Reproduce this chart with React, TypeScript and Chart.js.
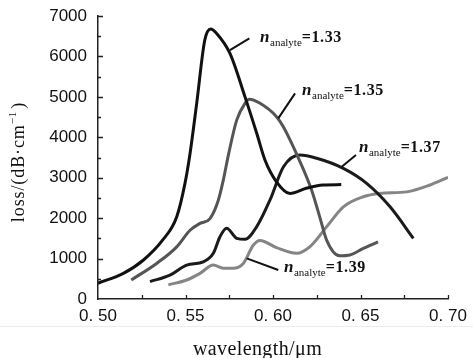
import React, { useEffect, useRef } from 'react';
import { Chart, registerables } from 'chart.js';

Chart.register(...registerables);

// wavelength (µm) and loss (dB/cm) for each analyte index
const wl133 = [0.5, 0.5145, 0.526, 0.537, 0.545, 0.5497, 0.5526, 0.5564, 0.561, 0.5644, 0.5678, 0.5754, 0.584, 0.5907, 0.5954, 0.602, 0.6097, 0.619, 0.6287, 0.639];
const loss133 = [390, 635, 965, 1460, 2035, 2860, 3600, 4840, 6400, 6680, 6570, 6075, 5000, 4100, 3440, 2900, 2610, 2740, 2820, 2830];

const wl135 = [0.519, 0.5335, 0.545, 0.5526, 0.5583, 0.564, 0.5688, 0.5716, 0.5745, 0.5793, 0.584, 0.5865, 0.5926, 0.602, 0.6059, 0.6154, 0.622, 0.6269, 0.6307, 0.638, 0.644, 0.6516, 0.66];
const loss135 = [470, 880, 1290, 1700, 1870, 1990, 2450, 2940, 3560, 4430, 4840, 4940, 4840, 4510, 4260, 3400, 2700, 2000, 1450, 1070, 1090, 1250, 1410];

const wl137 = [0.5297, 0.5411, 0.5507, 0.5602, 0.5659, 0.5697, 0.5735, 0.5793, 0.584, 0.5907, 0.5983, 0.606, 0.6154, 0.625, 0.6402, 0.6535, 0.6669, 0.6802];
const loss137 = [430, 590, 840, 920, 1130, 1540, 1750, 1500, 1475, 1790, 2450, 3270, 3560, 3480, 3230, 2860, 2280, 1500];

const wl139 = [0.5402, 0.5507, 0.5583, 0.5659, 0.5716, 0.5773, 0.583, 0.5888, 0.5926, 0.602, 0.6135, 0.621, 0.6307, 0.6402, 0.6516, 0.661, 0.6764, 0.6897, 0.7];
const loss139 = [350, 470, 635, 840, 760, 760, 880, 1335, 1450, 1270, 1130, 1290, 1790, 2280, 2530, 2610, 2650, 2820, 3010];

const seriesLabels = ['1.33', '1.35', '1.37', '1.39'];
const seriesColors = ['#111111', '#555555', '#1a1a1a', '#858585'];

// annotation leader lines and text anchors, in data coordinates
const leaderFromX = [0.5754, 0.603, 0.6393, 0.585];
const leaderFromY = [6158, 4469, 3272, 1006];
const leaderToX = [0.5865, 0.6126, 0.6474, 0.603];
const leaderToY = [6447, 5087, 3561, 717];
const textX = [0.5926, 0.6166, 0.6491, 0.6063];
const textY = [6480, 5170, 3767, 790];

const xTitle = 'wavelength/\u03bcm';
const yTitleMain = 'loss/(dB\u00b7cm';
const yTitleSup = '\u22121';
const yTitleEnd = ')';

const toPoints = (xs: number[], ys: number[]) => xs.map((x, i) => ({ x, y: ys[i] }));

const overlay = {
  id: 'overlay',
  afterDraw(chart: any) {
    const ctx = chart.ctx as CanvasRenderingContext2D;
    const xs = chart.scales.x;
    const ys = chart.scales.y;
    const area = chart.chartArea;
    ctx.save();
    // faint separator line
    ctx.strokeStyle = '#ececec';
    ctx.lineWidth = 1;
    ctx.beginPath();
    ctx.moveTo(0, 326.5);
    ctx.lineTo(chart.width, 326.5);
    ctx.stroke();

    // inward ticks
    ctx.strokeStyle = '#222';
    ctx.lineWidth = 1.3;
    ctx.beginPath();
    for (let v = 0.525; v < 0.7001; v += 0.025) {
      const px = Math.round(xs.getPixelForValue(v)) + 0.5;
      ctx.moveTo(px, area.bottom);
      ctx.lineTo(px, area.bottom - 4);
    }
    for (let v = 500; v <= 7000; v += 500) {
      const py = Math.round(ys.getPixelForValue(v)) + 0.5;
      const len = v % 1000 === 0 ? 5 : 3;
      ctx.moveTo(area.left, py);
      ctx.lineTo(area.left + len, py);
    }
    ctx.stroke();

    // x title
    ctx.fillStyle = '#111';
    ctx.font = '20px "Liberation Serif"';
    (ctx as any).letterSpacing = '0.4px';
    ctx.textAlign = 'center';
    ctx.textBaseline = 'alphabetic';
    ctx.fillText(xTitle, 257.5, 355);

    // y title (rotated)
    ctx.save();
    ctx.translate(24, 162);
    ctx.rotate(-Math.PI / 2);
    ctx.textAlign = 'left';
    const big = '18px "Liberation Serif"';
    const small = '11px "Liberation Serif"';
    (ctx as any).letterSpacing = '0.9px';
    ctx.font = big;
    const w1 = ctx.measureText(yTitleMain).width;
    ctx.font = small;
    const w2 = ctx.measureText(yTitleSup).width;
    ctx.font = big;
    const w3 = ctx.measureText(yTitleEnd).width;
    let sx = -(w1 + w2 + w3 + 2) / 2;
    ctx.fillText(yTitleMain, sx, 0);
    sx += w1;
    ctx.font = small;
    ctx.fillText(yTitleSup, sx, -8);
    sx += w2 + 2;
    ctx.font = big;
    ctx.fillText(yTitleEnd, sx, 0);
    ctx.restore();

    // annotations
    for (let i = 0; i < seriesLabels.length; i++) {
      ctx.strokeStyle = '#111';
      ctx.lineWidth = 2;
      ctx.beginPath();
      ctx.moveTo(xs.getPixelForValue(leaderFromX[i]), ys.getPixelForValue(leaderFromY[i]));
      ctx.lineTo(xs.getPixelForValue(leaderToX[i]), ys.getPixelForValue(leaderToY[i]));
      ctx.stroke();

      let tx = xs.getPixelForValue(textX[i]);
      const base = ys.getPixelForValue(textY[i]) + 5;
      ctx.textAlign = 'left';
      ctx.fillStyle = '#111';
      (ctx as any).letterSpacing = '0px';
      ctx.font = 'bold italic 17px "Liberation Serif"';
      ctx.fillText('n', tx, base);
      tx += ctx.measureText('n').width + 0.5;
      ctx.font = '11px "Liberation Serif"';
      ctx.fillText('analyte', tx, base + 4);
      tx += ctx.measureText('analyte').width;
      ctx.font = 'bold 16px "Liberation Serif"';
      (ctx as any).letterSpacing = '0.6px';
      ctx.fillText('=' + seriesLabels[i], tx, base);
    }
    ctx.restore();
  },
};

export default function App() {
  const ref = useRef<HTMLCanvasElement>(null);
  useEffect(() => {
    const canvas = ref.current;
    if (!canvas) return;
    const series = [
      toPoints(wl133, loss133),
      toPoints(wl135, loss135),
      toPoints(wl137, loss137),
      toPoints(wl139, loss139),
    ];
    const chart = new Chart(canvas, {
      type: 'line',
      data: {
        datasets: series.map((d, i) => ({
          label: 'n=' + seriesLabels[i],
          data: d,
          borderColor: seriesColors[i],
          borderWidth: 3,
          pointRadius: 0,
          fill: false,
          cubicInterpolationMode: 'monotone' as const,
        })),
      },
      options: {
        animation: false,
        responsive: false,
        maintainAspectRatio: false,
        layout: { padding: { left: 0, right: 25, top: 16, bottom: 0 } },
        plugins: {
          legend: { display: false },
          tooltip: { enabled: false },
        },
        scales: {
          x: {
            type: 'linear',
            min: 0.5,
            max: 0.7,
            grid: { display: false, drawTicks: false },
            border: { display: true, color: '#222', width: 1.5 },
            ticks: {
              stepSize: 0.05,
              padding: 7,
              color: '#111',
              maxRotation: 0,
              font: { family: 'Liberation Sans', size: 17 },
              callback: (v: any) => Number(v).toFixed(2).replace('.', '. '),
            },
            afterFit: (s: any) => {
              s.height = 59;
              s.paddingLeft = 10;
              s.paddingRight = 10;
            },
          },
          y: {
            type: 'linear',
            min: 0,
            max: 7000,
            grid: { display: false, drawTicks: false },
            border: { display: true, color: '#222', width: 1.5 },
            ticks: {
              stepSize: 1000,
              padding: 11,
              color: '#111',
              font: { family: 'Liberation Sans', size: 17 },
              callback: (v: any) => String(v),
            },
            afterFit: (s: any) => {
              s.width = 98;
              s.paddingTop = 8;
              s.paddingBottom = 0;
            },
          },
        },
      },
      plugins: [overlay],
    });
    return () => chart.destroy();
  }, []);
  return (
    <canvas
      ref={ref}
      width={473}
      height={358}
      style={{ position: 'absolute', left: 0, top: 0, display: 'block' }}
    />
  );
}
